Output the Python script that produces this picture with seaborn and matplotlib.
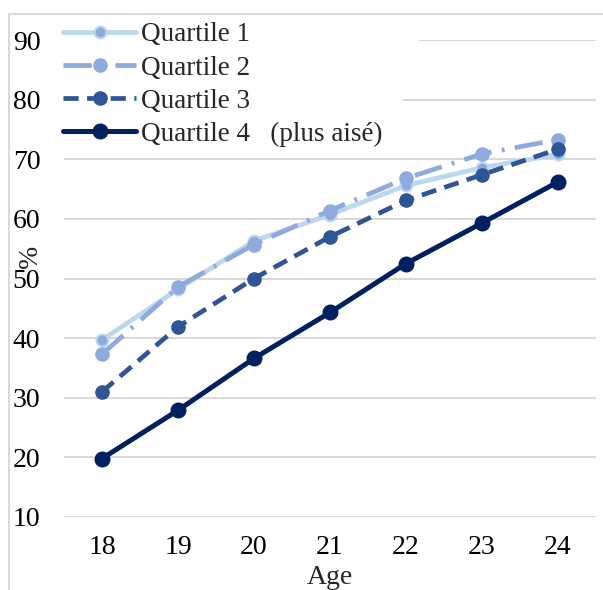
import matplotlib
matplotlib.use("Agg")
import matplotlib.pyplot as plt
from matplotlib.patches import Rectangle
from matplotlib.lines import Line2D
import pandas as pd
import seaborn as sns

ages = [18, 19, 20, 21, 22, 23, 24]
quartile_1 = [39.7, 48.2, 56.3, 60.7, 65.6, 68.6, 70.8]
quartile_2 = [37.3, 48.6, 55.7, 61.4, 66.8, 70.9, 73.3]
quartile_3 = [31.0, 41.9, 50.0, 57.0, 63.1, 67.4, 71.7]
quartile_4 = [19.8, 27.9, 36.6, 44.3, 52.5, 59.3, 66.2]
series_labels = ["Quartile 1", "Quartile 2", "Quartile 3", "Quartile 4   (plus aisé)"]
y_ticks = [10, 20, 30, 40, 50, 60, 70, 80, 90]

sns.set_theme(style="white")
plt.rcParams["font.family"] = ["Liberation Serif", "DejaVu Serif"]

fig = plt.figure(figsize=(6.03, 5.90), dpi=100)
W, H = 603, 590
ax = fig.add_axes([64 / W, (H - 517) / H, 532 / W, 477 / H])
ax.set_axisbelow(True)

styles = [
    dict(color="#BDD7EE", lw=3.4, ls="-", marker="o", ms=8.5,
         mfc="#8FAADC", mec="#BDD7EE", mew=1.5),
    dict(color="#8FAADC", lw=3.4, ls=(0, (6, 2.2, 0.6, 2.2)), marker="o", ms=9.5,
         mfc="#8FAADC", mec="#8FAADC", mew=1),
    dict(color="#2F5597", lw=3.4, ls=(0, (3.2, 1.8)), marker="o", ms=9.5,
         mfc="#2F5597", mec="#2F5597", mew=1),
    dict(color="#002060", lw=3.6, ls="-", marker="o", ms=10.5,
         mfc="#002060", mec="#002060", mew=1),
]

data = [quartile_1, quartile_2, quartile_3, quartile_4]
handles = []
for vals, lab, st in zip(data, series_labels, styles):
    df = pd.DataFrame({"Age": ages, "pct": vals})
    sns.lineplot(data=df, x="Age", y="pct", ax=ax, color=st["color"],
                 linewidth=st["lw"], linestyle=st["ls"], marker=st["marker"],
                 markersize=st["ms"], markerfacecolor=st["mfc"],
                 markeredgecolor=st["mec"], markeredgewidth=st["mew"],
                 zorder=3, clip_on=False)
    handles.append(Line2D([], [], color=st["color"], lw=st["lw"], ls=st["ls"],
                          marker=st["marker"], ms=st["ms"], mfc=st["mfc"],
                          mec=st["mec"], mew=st["mew"]))

ax.set_xlim(17.5, 24.5)
ax.set_ylim(10, 90)
ax.set_xticks(ages)
ax.set_yticks(y_ticks)
ax.tick_params(axis="both", length=0, labelsize=20, colors="black")
ax.tick_params(axis="y", pad=17)
ax.tick_params(axis="x", pad=13)
ax.grid(axis="y", color="#D9D9D9", lw=1.5)
ax.grid(axis="x", visible=False)
for s in ax.spines.values():
    s.set_visible(False)
ax.set_xlabel("")
ax.set_ylabel("")

# white legend area hiding the upper gridlines
for x1, y1 in [(402, 150), (419, 52)]:
    ax.add_patch(Rectangle((50 / W, 1 - y1 / H), (x1 - 50) / W, (y1 - 16) / H,
                           transform=fig.transFigure, facecolor="white",
                           edgecolor="none", zorder=1, clip_on=False))

fig.text(330 / W, 1 - 578 / H, "Age", ha="center", va="center", fontsize=20)
fig.text(30 / W, 1 - 256 / H, "%", ha="center", va="center", fontsize=20,
         rotation=90)

leg = fig.legend(handles, series_labels, loc="upper left",
                 bbox_to_anchor=(58 / W, 1 - 17 / H), frameon=False,
                 fontsize=19.5, handlelength=2.67, handletextpad=0.2,
                 labelspacing=0.3, borderpad=0.2, borderaxespad=0)
leg.set_zorder(5)

# light frame around the figure area
fig.patches.append(Rectangle((9 / W, -0.05), 1.2, 1 - 14 / H + 0.05,
                             transform=fig.transFigure, fill=False,
                             edgecolor="#D9D9D9", lw=1.5, zorder=0))

fig.savefig("out.png", dpi=100)
